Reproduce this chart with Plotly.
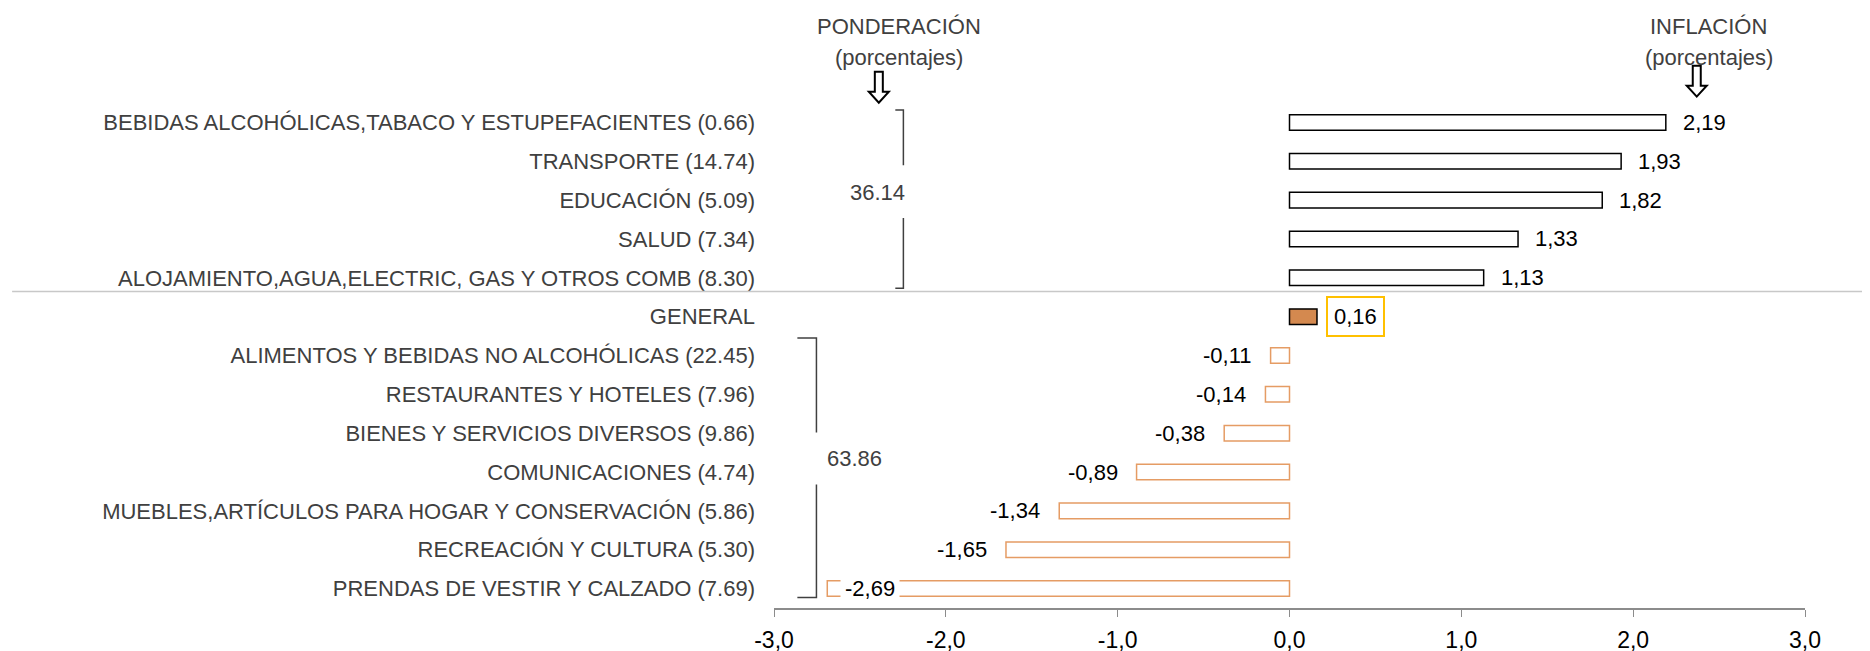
import plotly.graph_objects as go

categories = [
    "BEBIDAS ALCOHÓLICAS,TABACO Y ESTUPEFACIENTES (0.66)",
    "TRANSPORTE (14.74)",
    "EDUCACIÓN (5.09)",
    "SALUD (7.34)",
    "ALOJAMIENTO,AGUA,ELECTRIC, GAS Y OTROS COMB (8.30)",
    "GENERAL",
    "ALIMENTOS Y BEBIDAS NO ALCOHÓLICAS (22.45)",
    "RESTAURANTES Y HOTELES (7.96)",
    "BIENES Y SERVICIOS DIVERSOS (9.86)",
    "COMUNICACIONES (4.74)",
    "MUEBLES,ARTÍCULOS PARA HOGAR Y CONSERVACIÓN (5.86)",
    "RECREACIÓN Y CULTURA (5.30)",
    "PRENDAS DE VESTIR Y CALZADO (7.69)",
]
inflacion = [2.19, 1.93, 1.82, 1.33, 1.13, 0.16, -0.11, -0.14, -0.38, -0.89, -1.34, -1.65, -2.69]
grupo_alza = [0, 1, 2, 3, 4]
grupo_baja = [6, 7, 8, 9, 10, 11, 12]
ponderacion_alza = "36.14"
ponderacion_baja = "63.86"
x_ticks = [-3, -2, -1, 0, 1, 2, 3]

FONT = "Liberation Sans Narrow, Arial Narrow, Liberation Sans, Arial, sans-serif"
GRAY_TXT = "#404040"
AXIS_GRAY = "#8c8c8c"
ORANGE_LINE = "#E59C64"
GENERAL_FILL = "#D4894F"

rows = list(range(len(categories)))
fill = []
line_col = []
for cat, v in zip(categories, inflacion):
    if cat == "GENERAL":
        fill.append(GENERAL_FILL)
        line_col.append("#000000")
    elif v >= 0:
        fill.append("#ffffff")
        line_col.append("#000000")
    else:
        fill.append("#ffffff")
        line_col.append(ORANGE_LINE)

fig = go.Figure()
fig.add_trace(
    go.Bar(
        x=inflacion,
        y=rows,
        orientation="h",
        width=0.4,
        marker=dict(color=fill, line=dict(color=line_col, width=1.5)),
        showlegend=False,
        hoverinfo="skip",
    )
)

# etiquetas de valor
val_font = dict(size=22, color="#000000", family=FONT)
for i, (cat, v) in enumerate(zip(categories, inflacion)):
    txt = f"{v:.2f}".replace(".", ",")
    if cat == "GENERAL":
        fig.add_annotation(x=v, y=i, text=txt, showarrow=False, xanchor="left", xshift=9,
                           font=val_font, bordercolor="#FFC000", borderwidth=2,
                           borderpad=6, bgcolor="#ffffff")
    elif v >= 0:
        fig.add_annotation(x=v, y=i, text=txt, showarrow=False, xanchor="left", xshift=15,
                           font=val_font)
    elif v < -2:
        fig.add_annotation(x=v, y=i, text=txt, showarrow=False, xanchor="left", xshift=13,
                           font=val_font, bgcolor="#ffffff", borderpad=4)
    else:
        fig.add_annotation(x=v, y=i, text=txt, showarrow=False, xanchor="right", xshift=-17,
                           font=val_font)

# linea separadora
fig.add_shape(type="line", xref="paper", yref="y", x0=-0.739, x1=1.08,
              y0=grupo_alza[-1] + 0.35, y1=grupo_alza[-1] + 0.35,
              line=dict(color="#c8c8c8", width=1.5))


# llaves de ponderacion
def bracket(xb, xh, yt, yb, g0, g1):
    path = (f"M {xh},{yt} L {xb},{yt} L {xb},{g0} "
            f"M {xb},{g1} L {xb},{yb} L {xh},{yb}")
    fig.add_shape(type="path", xref="x", yref="y", path=path,
                  line=dict(color="#404040", width=1.5))


bracket(-2.247, -2.294, grupo_alza[0] - 0.32, grupo_alza[-1] + 0.27, 1.10, 2.46)
bracket(-2.753, -2.864, grupo_baja[0] - 0.45, grupo_baja[-1] + 0.23, 7.98, 9.32)

grp_font = dict(size=22, color=GRAY_TXT, family=FONT)
fig.add_annotation(x=-2.40, y=1.8, text=ponderacion_alza, showarrow=False, font=grp_font)
fig.add_annotation(x=-2.53, y=8.65, text=ponderacion_baja, showarrow=False, font=grp_font)

# encabezados
for xc, title in [(-2.27, "PONDERACIÓN"), (2.44, "INFLACIÓN")]:
    fig.add_annotation(x=xc, xref="x", y=1.152, yref="paper", yanchor="middle", text=title,
                       showarrow=False, font=grp_font)
    fig.add_annotation(x=xc, xref="x", y=1.091, yref="paper", yanchor="middle",
                       text="(porcentajes)", showarrow=False, font=grp_font)

# flechas huecas hacia abajo
arrow_path = "M -4,0 L 4,0 L 4,-20 L 10,-20 L 0,-31 L -10,-20 L -4,-20 Z"
for xa, ya in [(-2.39, 1.062), (2.37, 1.074)]:
    fig.add_shape(type="path", xref="x", yref="paper", xsizemode="pixel", ysizemode="pixel",
                  xanchor=xa, yanchor=ya, path=arrow_path, fillcolor="#ffffff",
                  line=dict(color="#000000", width=2))

fig.update_layout(
    width=1870,
    height=651,
    margin=dict(l=766, r=73, t=95, b=51),
    plot_bgcolor="#ffffff",
    paper_bgcolor="#ffffff",
    font=dict(family=FONT, size=22, color="#000000"),
    xaxis=dict(
        range=[-3, 3],
        tickvals=x_ticks,
        ticktext=[f"{t:.1f}".replace(".", ",") for t in x_ticks],
        ticks="outside",
        ticklen=7,
        tickcolor=AXIS_GRAY,
        showline=True,
        linecolor=AXIS_GRAY,
        linewidth=1.5,
        showgrid=False,
        zeroline=False,
        automargin=False,
        ticklabelstandoff=4,
        tickfont=dict(size=23, color="#000000"),
    ),
    yaxis=dict(
        range=[len(categories) - 0.5, -0.5],
        tickvals=rows,
        ticktext=categories,
        ticks="",
        showline=False,
        showgrid=False,
        zeroline=False,
        automargin=False,
        ticklabelstandoff=18,
        tickfont=dict(size=22, color=GRAY_TXT),
    ),
    yaxis2=dict(
        overlaying="y",
        anchor="free",
        position=0.5,
        range=[len(categories) - 0.5, -0.5],
        tickmode="linear",
        tick0=-0.5,
        dtick=0.5,
        ticks="inside",
        ticklen=7,
        tickcolor=AXIS_GRAY,
        showline=True,
        linecolor=AXIS_GRAY,
        linewidth=1.5,
        showticklabels=False,
        showgrid=False,
        zeroline=False,
        automargin=False,
    ),
)

fig.write_html("out.html")
